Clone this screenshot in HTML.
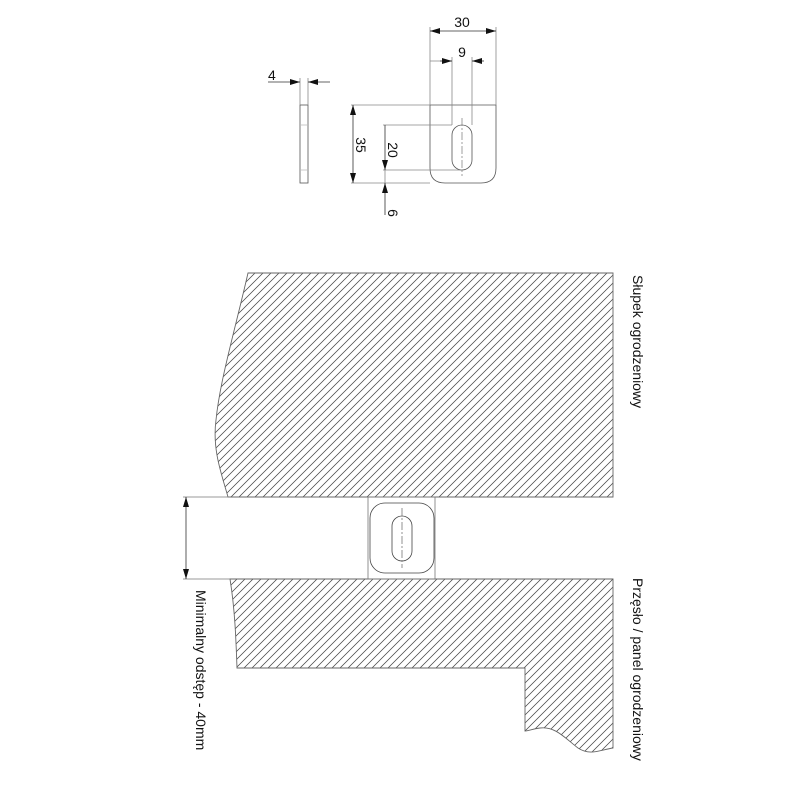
<!DOCTYPE html>
<html><head><meta charset="utf-8"><style>body{margin:0;background:#fff}svg{display:block}text{font-family:"Liberation Sans",sans-serif;fill:#111}</style></head><body>
<svg width="800" height="800" viewBox="0 0 800 800">
<defs>
<pattern id="h" patternUnits="userSpaceOnUse" width="8" height="8">
<path d="M-2,10L10,-2M-2,2L2,-2M6,10L10,6" stroke="#444" stroke-width="0.75" fill="none"/>
</pattern>
<marker id="a" viewBox="0 0 10 6" refX="10" refY="3" markerWidth="10" markerHeight="6" orient="auto-start-reverse" markerUnits="userSpaceOnUse"><path d="M0,0L10,3L0,6z" fill="#111"/></marker>
</defs>
<g stroke="#888" stroke-width="0.8" fill="none">
<rect x="300" y="105" width="8" height="78" stroke="#555"/>
<line x1="300" y1="125" x2="308" y2="125" stroke="#bbb"/>
<line x1="300" y1="170" x2="308" y2="170" stroke="#bbb"/>
<line x1="300" y1="78" x2="300" y2="105"/><line x1="308" y1="78" x2="308" y2="105"/>
<line x1="268" y1="82" x2="300" y2="82" marker-end="url(#a)" stroke="#333"/>
<line x1="330" y1="82" x2="308" y2="82" marker-end="url(#a)" stroke="#333"/>
<path d="M430,105H496V168Q496,183 481,183H445Q430,183 430,168Z" stroke="#555"/>
<rect x="452" y="125" width="20" height="45" rx="10" stroke="#555"/>
<line x1="462" y1="118" x2="462" y2="176" stroke-dasharray="8,2,2,2"/>
<line x1="430" y1="27" x2="430" y2="105"/><line x1="496" y1="27" x2="496" y2="105"/>
<line x1="430" y1="31" x2="496" y2="31" marker-start="url(#a)" marker-end="url(#a)" stroke="#333"/>
<line x1="452" y1="57" x2="452" y2="125"/><line x1="472" y1="57" x2="472" y2="125"/>
<line x1="430" y1="61" x2="452" y2="61"/>
<line x1="440" y1="61" x2="452" y2="61" marker-end="url(#a)" stroke="#333"/>
<line x1="484" y1="61" x2="472" y2="61" marker-end="url(#a)" stroke="#333"/>
<line x1="351" y1="105" x2="430" y2="105"/><line x1="351" y1="183" x2="430" y2="183"/>
<line x1="353" y1="105" x2="353" y2="183" marker-start="url(#a)" marker-end="url(#a)" stroke="#333"/>
<line x1="383" y1="125" x2="452" y2="125"/><line x1="383" y1="170" x2="462" y2="170"/>
<line x1="385" y1="125" x2="385" y2="170" marker-end="url(#a)" stroke="#333"/>
<line x1="385" y1="215" x2="385" y2="183" marker-end="url(#a)" stroke="#333"/>
<line x1="385" y1="170" x2="385" y2="183"/>
</g>
<text x="268" y="80" font-size="14">4</text>
<text x="462" y="27" font-size="14" text-anchor="middle">30</text>
<text x="462" y="57" font-size="14" text-anchor="middle">9</text>
<text transform="translate(356,145) rotate(90)" font-size="14" text-anchor="middle">35</text>
<text transform="translate(388,150) rotate(90)" font-size="14" text-anchor="middle">20</text>
<text transform="translate(388,213) rotate(90)" font-size="14" text-anchor="middle">6</text>
<path d="M248,273H613V497H228C222,475 212,450 216,420C220,380 235,330 248,273Z" fill="url(#h)" stroke="#666" stroke-width="0.9"/>
<path d="M230,579H613V748C600,750 590,756 578,748C565,738 555,726 540,728C532,729 528,731 525,731V668H237C236,640 235,610 230,579Z" fill="url(#h)" stroke="#666" stroke-width="0.9"/>
<g stroke="#777" stroke-width="0.8" fill="none">
<rect x="368" y="497" width="67" height="82"/>
<rect x="370" y="503" width="64" height="70" rx="15" stroke="#444"/>
<rect x="392" y="516" width="20" height="45" rx="10" stroke="#444"/>
<line x1="402" y1="508" x2="402" y2="568" stroke-dasharray="8,2,2,2"/>
<line x1="183" y1="497" x2="230" y2="497"/><line x1="183" y1="579" x2="230" y2="579"/>
<line x1="186" y1="497" x2="186" y2="579" marker-start="url(#a)" marker-end="url(#a)" stroke="#333"/>
</g>
<text transform="translate(196,590) rotate(90)" font-size="14">Minimalny odstęp - 40mm</text>
<text transform="translate(633,275) rotate(90)" font-size="14">Słupek ogrodzeniowy</text>
<text transform="translate(633,578) rotate(90)" font-size="14">Przęsło / panel ogrodzeniowy</text>
</svg>
</body></html>
